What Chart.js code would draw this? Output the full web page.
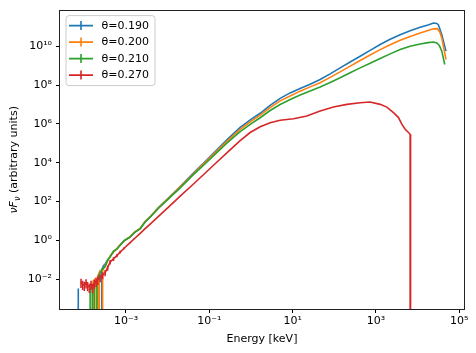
<!DOCTYPE html>
<html>
<head>
<meta charset="utf-8">
<script src="https://cdn.jsdelivr.net/npm/chart.js@4.4.1/dist/chart.umd.min.js"></script>
<style>
html,body{margin:0;padding:0;background:#fff;}
#c{display:block;}
</style>
</head>
<body>
<canvas id="c" width="476" height="353"></canvas>
<script>
// ---- data (energy in keV, flux nuF_nu in arbitrary units; 0 = no flux) ----
const seriesLabels = ['θ=0.190', 'θ=0.200', 'θ=0.210', 'θ=0.270'];
const seriesColors = ['#1f77b4', '#ff7f0e', '#2ca02c', '#d62728'];

const energyA = [6.31e-5, 7.16e-5, 7.94e-5, 2.40e-4, 2.63e-4, 2.88e-4, 3.16e-4, 3.63e-4, 4.17e-4, 5.01e-4,
  6.03e-4, 7.24e-4, 9.12e-4, 1.26e-3, 1.58e-3, 2.19e-3, 2.88e-3, 3.80e-3, 6.03e-3, 1.0e-2,
  2.00e-2, 3.98e-2, 7.94e-2, 0.138, 0.275, 0.550, 1.0, 1.66, 2.82, 5.01,
  8.71, 15.1, 26.3, 45.7, 79.4, 138, 240, 417, 724, 1.26e3,
  2.19e3, 3.80e3, 6.61e3, 1.15e4, 1.78e4, 2.40e4, 2.88e4, 3.16e4, 3.80e4, 4.79e4];
const fluxA = [0, 3.31e-3, 0, 0, 3.16e-2, 5.01e-2, 6.03e-2, 0.1, 0.151, 0.263,
  0.372, 0.589, 0.977, 1.55, 2.57, 4.17, 9.33, 16.6, 50.1, 141,
  603, 2.69e3, 1.15e4, 3.80e4, 1.66e5, 6.61e5, 1.74e6, 3.55e6, 8.91e6, 2.09e7,
  3.98e7, 6.76e7, 1.12e8, 1.95e8, 3.80e8, 7.76e8, 1.55e9, 3.09e9, 6.17e9, 1.23e10,
  2.29e10, 3.98e10, 6.31e10, 9.55e10, 1.26e11, 1.58e11, 1.51e11, 1.26e11, 3.98e10, 5.62e9];

const energyB = [1.51e-4, 1.62e-4, 1.78e-4, 1.91e-4, 2.09e-4, 2.29e-4, 2.51e-4, 2.75e-4, 3.16e-4, 3.63e-4,
  4.17e-4, 5.01e-4, 6.03e-4, 7.24e-4, 9.12e-4, 1.26e-3, 1.58e-3, 2.19e-3, 2.88e-3, 3.80e-3,
  6.03e-3, 1.0e-2, 2.00e-2, 3.98e-2, 7.94e-2, 0.138, 0.275, 0.550, 1.0, 1.66,
  2.82, 5.01, 8.71, 15.1, 26.3, 45.7, 79.4, 138, 240, 417,
  724, 1.26e3, 2.19e3, 3.80e3, 6.61e3, 1.15e4, 1.78e4, 2.40e4, 2.95e4, 3.39e4,
  3.80e4, 4.79e4];
const fluxB = [0, 7.94e-3, 1.0e-2, 0, 1.41e-2, 2.24e-2, 0, 2.82e-2, 5.01e-2, 8.91e-2,
  0.158, 0.251, 0.380, 0.603, 0.955, 1.58, 2.63, 4.17, 9.55, 16.6,
  47.9, 135, 575, 2.51e3, 1.05e4, 3.39e4, 1.38e5, 5.25e5, 1.35e6, 2.82e6,
  6.76e6, 1.55e7, 2.75e7, 4.90e7, 8.13e7, 1.32e8, 2.51e8, 4.79e8, 9.55e8, 1.86e9,
  3.55e9, 6.76e9, 1.20e10, 2.04e10, 3.24e10, 4.79e10, 6.46e10, 7.94e10, 8.13e10, 5.62e10,
  2.69e10, 2.09e9];

const energyC = [1.32e-4, 1.38e-4, 1.45e-4, 1.55e-4, 1.74e-4, 1.86e-4, 2.00e-4, 2.29e-4, 2.63e-4, 3.16e-4,
  3.63e-4, 4.17e-4, 5.01e-4, 6.03e-4, 7.24e-4, 9.12e-4, 1.26e-3, 1.58e-3, 2.19e-3, 2.88e-3,
  3.80e-3, 6.03e-3, 1.0e-2, 2.00e-2, 3.98e-2, 7.94e-2, 0.138, 0.275, 0.550, 1.0,
  1.66, 2.82, 5.01, 8.71, 15.1, 26.3, 45.7, 79.4, 138, 240,
  417, 724, 1.26e3, 2.19e3, 3.80e3, 6.61e3, 1.15e4, 1.78e4, 2.40e4, 2.88e4,
  3.31e4, 3.80e4, 4.47e4];
const fluxC = [0, 3.98e-3, 0, 5.01e-3, 6.31e-3, 0, 7.94e-3, 1.78e-2, 3.16e-2, 4.47e-2,
  0.1, 0.141, 0.282, 0.355, 0.562, 1.0, 1.48, 2.51, 3.98, 8.91,
  15.8, 45.7, 126, 513, 2.24e3, 8.91e3, 2.82e4, 1.12e5, 4.07e5, 1.0e6,
  2.09e6, 4.79e6, 1.0e7, 1.82e7, 3.09e7, 5.01e7, 7.94e7, 1.38e8, 2.40e8, 4.37e8,
  7.76e8, 1.35e9, 2.34e9, 4.07e9, 6.76e9, 1.0e10, 1.32e10, 1.55e10, 1.66e10, 1.48e10,
  1.12e10, 5.62e9, 1.15e9];

const energyD = [8.32e-5, 9.12e-5, 1.00e-4, 1.10e-4, 1.20e-4, 1.32e-4, 1.45e-4, 1.58e-4, 1.74e-4, 1.91e-4,
  2.09e-4, 2.40e-4, 2.75e-4, 3.16e-4, 3.63e-4, 4.17e-4, 5.01e-4, 6.03e-4, 7.24e-4, 9.12e-4,
  1.26e-3, 1.58e-3, 2.19e-3, 2.88e-3, 3.80e-3, 6.03e-3, 1.0e-2, 2.00e-2, 3.98e-2, 6.03e-2,
  0.138, 0.275, 0.550, 0.955, 1.66, 2.88, 5.01, 10.5, 21.9, 45.7,
  95.5, 200, 417, 724, 1.26e3, 1.82e3, 2.63e3, 3.47e3, 4.17e3, 5.01e3,
  6.03e3, 6.61e3, 6.76e3];
const fluxD = [7.08e-3, 5.62e-3, 5.01e-3, 6.61e-3, 4.79e-3, 3.98e-3, 5.62e-3, 3.80e-3, 6.31e-3, 7.94e-3,
  9.55e-3, 1.26e-2, 1.66e-2, 2.24e-2, 3.98e-2, 7.76e-2, 0.112, 0.166, 0.251, 0.407,
  0.776, 1.23, 2.34, 4.07, 6.92, 17.4, 47.9, 191, 741, 1.70e3,
  8.91e3, 3.55e4, 1.38e5, 3.63e5, 7.24e5, 1.17e6, 1.55e6, 1.86e6, 2.57e6, 4.68e6,
  7.41e6, 1.02e7, 1.23e7, 1.35e7, 1.02e7, 7.41e6, 3.80e6, 2.14e6, 9.77e5, 5.37e5,
  3.63e5, 2.95e5, 0];
const errD = [3.5e-3, 2.8e-3, 2.5e-3, 3.3e-3, 2.4e-3, 2.0e-3, 2.8e-3, 1.9e-3, 3.1e-3, 3.9e-3,
  4.5e-3, 5.5e-3, 6.5e-3, 8.0e-3, 1.2e-2, 2.0e-2, 2.5e-2, 3.0e-2, 4.0e-2, 5.0e-2,
  6.0e-2, 8.0e-2, 0.1, 0.15, 0.2];

const xTickValues = [1e-3, 1e-1, 1e1, 1e3, 1e5];
const xTickLabels = ['10⁻³', '10⁻¹', '10¹', '10³', '10⁵'];
const yTickValues = [1e-2, 1e0, 1e2, 1e4, 1e6, 1e8, 1e10];
const yTickLabels = ['10⁻²', '10⁰', '10²', '10⁴', '10⁶', '10⁸', '10¹⁰'];
const xTitle = 'Energy [keV]';
const yTitleMath = ['νF', 'ν'];          // italic symbol and its subscript
const yTitleRest = ' (arbitrary units)';

// ---- chart ----
// matplotlib clips non-positive values on a log axis to a tiny number
const CLIP = 1e-300;
function pts(xs, ys) { return xs.map((x, i) => ({ x: x, y: ys[i] > 0 ? ys[i] : CLIP })); }

const energies = [energyA, energyB, energyC, energyD];
const fluxes = [fluxA, fluxB, fluxC, fluxD];
const drawOrder = [3, 2, 1, 0];

const datasets = seriesLabels.map((lab, i) => ({
  label: lab,
  data: pts(energies[i], fluxes[i]),
  borderColor: seriesColors[i],
  backgroundColor: seriesColors[i],
  borderWidth: 1.6,
  pointRadius: 0,
  pointHoverRadius: 0,
  showLine: true,
  tension: 0,
  order: drawOrder[i],
  errors: i === 3 ? errD : null
}));

Chart.defaults.font.family = 'DejaVu Sans';
Chart.defaults.font.size = 11;
Chart.defaults.color = '#000';

const extras = {
  id: 'extras',
  afterDatasetsDraw(chart) {
    const { ctx, chartArea: a } = chart;
    const xs = chart.scales.x, ys = chart.scales.y;
    ctx.save();
    ctx.beginPath();
    ctx.rect(a.left, a.top, a.right - a.left, a.bottom - a.top);
    ctx.clip();
    chart.data.datasets.forEach(ds => {
      if (!ds.errors) return;
      ctx.strokeStyle = ds.borderColor;
      ctx.lineWidth = 1.6;
      ds.data.forEach((p, j) => {
        const e = ds.errors[j];
        if (!e || p.y <= CLIP) return;
        const px = xs.getPixelForValue(p.x);
        const lo = p.y - e;
        const y1 = lo > 0 ? ys.getPixelForValue(lo) : a.bottom + 20;
        const y2 = ys.getPixelForValue(p.y + e);
        ctx.beginPath();
        ctx.moveTo(px, y1);
        ctx.lineTo(px, y2);
        ctx.stroke();
      });
    });
    ctx.restore();
  },
  afterDraw(chart) {
    const { ctx, chartArea: a } = chart;
    ctx.save();
    // frame
    ctx.strokeStyle = '#222';
    ctx.lineWidth = 1;
    ctx.strokeRect(Math.round(a.left) - 0.5, Math.round(a.top) - 0.5,
      Math.round(a.right - a.left) + 1, Math.round(a.bottom - a.top) + 1);
    // y-axis title with math-style italic symbol
    const fMain = 'italic 11px "DejaVu Sans"', fSub = 'italic 8px "DejaVu Sans"', fRest = '11px "DejaVu Sans"';
    ctx.font = fMain; const w1 = ctx.measureText(yTitleMath[0]).width;
    ctx.font = fSub; const w2 = ctx.measureText(yTitleMath[1]).width;
    ctx.font = fRest; const w3 = ctx.measureText(yTitleRest).width;
    const W = w1 + w2 + w3;
    ctx.translate(13, (a.top + a.bottom) / 2);
    ctx.rotate(-Math.PI / 2);
    ctx.fillStyle = '#000';
    ctx.textAlign = 'left';
    ctx.textBaseline = 'alphabetic';
    let px = -W / 2;
    const base = 4;
    ctx.font = fMain; ctx.fillText(yTitleMath[0], px, base); px += w1;
    ctx.font = fSub; ctx.fillText(yTitleMath[1], px, base + 2.5); px += w2;
    ctx.font = fRest; ctx.fillText(yTitleRest, px, base);
    ctx.setTransform(1, 0, 0, 1, 0, 0);
    // legend
    const lx = a.left + 6, ly = a.top + 5, lw = 89, lh = 70, r = 3;
    ctx.beginPath();
    ctx.moveTo(lx + r, ly);
    ctx.lineTo(lx + lw - r, ly); ctx.arcTo(lx + lw, ly, lx + lw, ly + r, r);
    ctx.lineTo(lx + lw, ly + lh - r); ctx.arcTo(lx + lw, ly + lh, lx + lw - r, ly + lh, r);
    ctx.lineTo(lx + r, ly + lh); ctx.arcTo(lx, ly + lh, lx, ly + lh - r, r);
    ctx.lineTo(lx, ly + r); ctx.arcTo(lx, ly, lx + r, ly, r);
    ctx.closePath();
    ctx.fillStyle = 'rgba(255,255,255,0.8)';
    ctx.fill();
    ctx.strokeStyle = '#cccccc';
    ctx.lineWidth = 1;
    ctx.stroke();
    ctx.font = '11px "DejaVu Sans"';
    ctx.textBaseline = 'middle';
    ctx.textAlign = 'left';
    chart.data.datasets.forEach((ds, i) => {
      const y = ly + 10 + i * 16.5;
      ctx.strokeStyle = ds.borderColor;
      ctx.lineWidth = 1.6;
      ctx.beginPath();
      ctx.moveTo(lx + 3, y); ctx.lineTo(lx + 27, y);
      ctx.moveTo(lx + 15, y - 4.5); ctx.lineTo(lx + 15, y + 4.5);
      ctx.stroke();
      ctx.fillStyle = '#000';
      ctx.fillText(ds.label, lx + 35.5, y + 0.5);
    });
    ctx.restore();
  }
};

function tickSetter(values) {
  return function (scale) { scale.ticks = values.map(v => ({ value: v })); };
}

new Chart(document.getElementById('c'), {
  type: 'scatter',
  data: { datasets: datasets },
  options: {
    responsive: false,
    animation: false,
    devicePixelRatio: 1,
    layout: { padding: { top: 8, right: 12, left: 0, bottom: 0 } },
    plugins: { legend: { display: false }, tooltip: { enabled: false } },
    scales: {
      x: {
        type: 'logarithmic',
        min: 2.606e-5,
        max: 1.297e5,
        afterBuildTicks: tickSetter(xTickValues),
        afterFit(scale) { scale.height = 44; },
        border: { display: false },
        grid: { drawOnChartArea: false, drawTicks: true, tickLength: 4, tickColor: '#000', tickWidth: 1 },
        ticks: {
          autoSkip: false, maxRotation: 0, padding: 2, color: '#000',
          callback: (v) => { const k = xTickValues.indexOf(v); return k >= 0 ? xTickLabels[k] : ''; }
        },
        title: { display: true, text: xTitle, color: '#000', padding: { top: 0, bottom: 7 } }
      },
      y: {
        type: 'logarithmic',
        min: 2.95e-4,
        max: 6.9e11,
        afterBuildTicks: tickSetter(yTickValues),
        afterFit(scale) { scale.width = 60; },
        border: { display: false },
        grid: { drawOnChartArea: false, drawTicks: true, tickLength: 4, tickColor: '#000', tickWidth: 1 },
        ticks: {
          autoSkip: false, padding: 4, color: '#000',
          callback: (v) => { const k = yTickValues.indexOf(v); return k >= 0 ? yTickLabels[k] : ''; }
        },
        title: { display: false }
      }
    }
  },
  plugins: [extras]
});
</script>
</body>
</html>
